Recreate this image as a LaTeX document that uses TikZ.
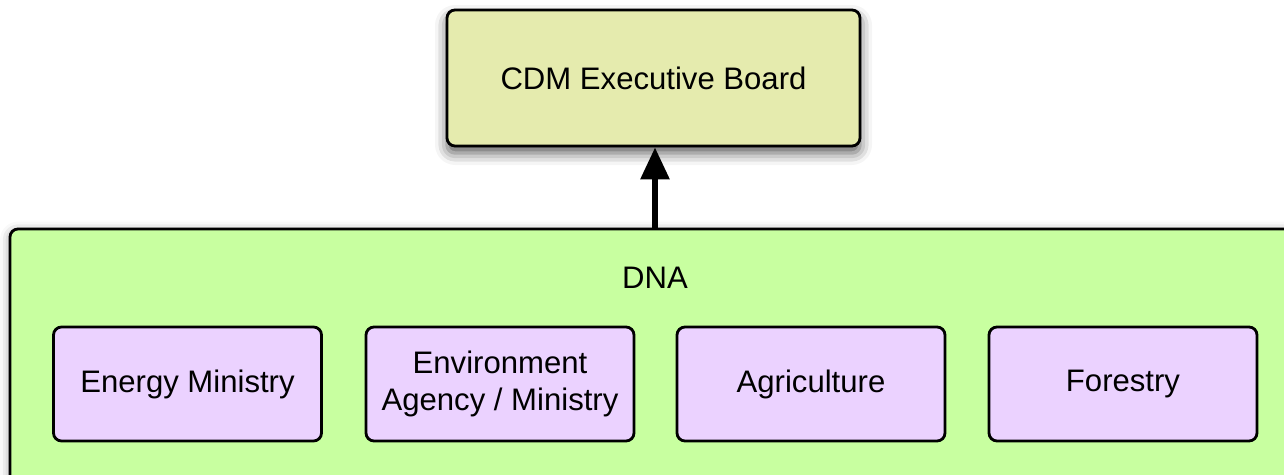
\documentclass[tikz,border=0pt]{standalone}
\usepackage{fontspec}
\setmainfont{Liberation Sans}
\usepackage{tikz}
\usetikzlibrary{arrows.meta,shadows.blur}

\definecolor{boardfill}{RGB}{229,235,174}
\definecolor{dnafill}{RGB}{200,255,160}
\definecolor{unitfill}{RGB}{235,210,255}

\begin{document}
\begin{tikzpicture}[
    box/.style={draw=black, line width=1.6pt, rounded corners=0.16cm, align=center,
        font=\fontsize{17.7}{21.5}\selectfont},
    board/.style={box, fill=boardfill, minimum width=8.26cm, minimum height=2.72cm,
        blur shadow={shadow xshift=0pt, shadow yshift=-0.14cm, shadow blur radius=0.24cm, shadow opacity=65}},
    dnabox/.style={box, fill=dnafill, minimum width=25.8cm, minimum height=5.42cm,
        blur shadow={shadow xshift=0pt, shadow yshift=-0.05cm, shadow blur radius=0.2cm, shadow opacity=40}},
    unit/.style={box, fill=unitfill, minimum width=5.36cm, minimum height=2.28cm},
    arrow/.style={line width=3.4pt, -{Triangle[length=0.64cm, width=0.56cm]}}
]
    \useasboundingbox (0,0) rectangle (25.68,-9.5);
    \clip (0,0) rectangle (25.68,-9.5);

    \node[board] (cdm) at (13.07,-1.56) {CDM Executive Board};
    \node[dnabox] (dna) at (13.1,-7.29) {};
    \node[font=\fontsize{17.7}{21.5}\selectfont] (dnatitle) at (13.1,-5.56) {DNA};

    \node[unit] (energy) at (3.75,-7.68) {Energy Ministry};
    \node[unit] (environment) at (10.0,-7.68) {Environment\\Agency / Ministry};
    \node[unit] (agriculture) at (16.22,-7.68) {Agriculture};
    \node[unit] (forestry) at (22.46,-7.68) {Forestry};

    \draw[arrow] (dna.north) -- (dna.north |- cdm.south);
\end{tikzpicture}
\end{document}
